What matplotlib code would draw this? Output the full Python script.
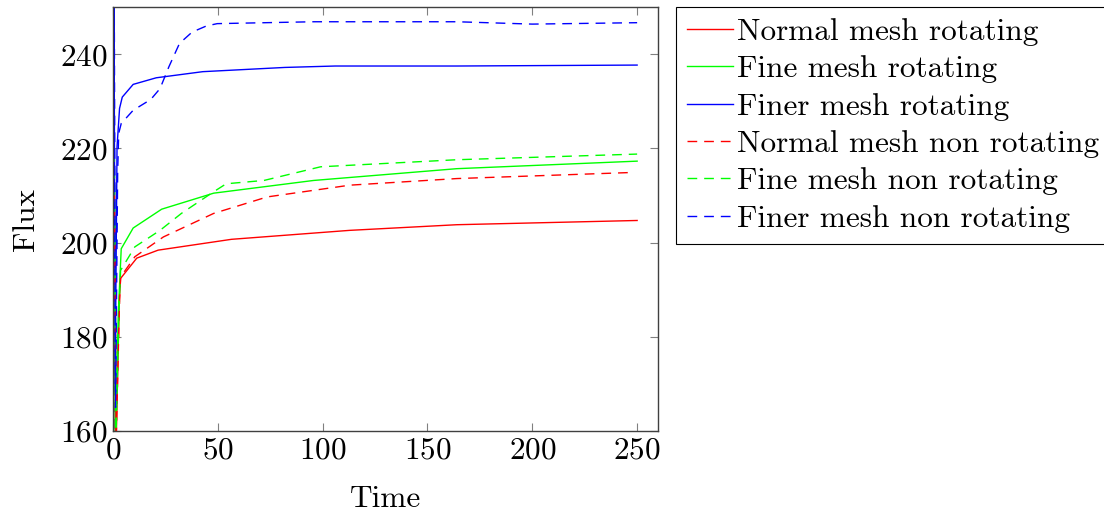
import matplotlib
matplotlib.use("Agg")
import matplotlib.pyplot as plt

plt.rcParams['font.family'] = ['cmr10', 'DejaVu Serif']
plt.rcParams['mathtext.fontset'] = 'cm'
plt.rcParams['axes.formatter.use_mathtext'] = True

# Data
t_normal_rot = [0, 0.6, 1.5, 3.0, 3.6, 11.3, 21.5, 56.5, 112.8, 164, 250]
f_normal_rot = [100, 215, 158, 188, 192.4, 196.7, 198.4, 200.7, 202.6, 203.8, 204.7]

t_fine_rot = [0, 0.5, 1.2, 2.5, 3.9, 9.6, 23.2, 48, 95.7, 164, 250]
f_fine_rot = [100, 225, 160, 185, 198.7, 203.1, 207.1, 210.5, 213.2, 215.7, 217.3]

t_finer_rot = [0, 0.4, 1.0, 1.9, 3.1, 4.4, 9.6, 20.6, 42.8, 82, 106, 164, 250]
f_finer_rot = [100, 262, 170, 220.3, 228.5, 230.9, 233.6, 235.0, 236.3, 237.2, 237.5, 237.5, 237.7]

t_normal_non = [0, 0.6, 1.5, 3.0, 3.6, 10.4, 24, 48, 73.5, 113, 164, 248]
f_normal_non = [100, 212, 158, 186, 192.7, 197.0, 201.2, 206.2, 209.7, 212.2, 213.6, 214.9]

t_fine_non = [0, 0.6, 1.5, 2.8, 3.6, 10.4, 22.4, 32.6, 48, 54, 72, 99, 164, 250]
f_fine_non = [100, 220, 160, 185, 194.1, 199.1, 202.6, 206.2, 210.8, 212.5, 213.2, 216.1, 217.6, 218.8]

t_finer_non = [0, 0.5, 1.2, 2.2, 2.7, 3.9, 9.6, 18, 22.4, 26.6, 31.7, 37.7, 44.5, 49.7, 95.7, 164, 200, 250]
f_finer_non = [100, 262, 165, 215, 223.2, 225.3, 228.1, 230.4, 232.7, 237.3, 242.3, 244.7, 246.0, 246.5, 246.9, 246.9, 246.4, 246.7]

labels = ["Normal mesh rotating", "Fine mesh rotating", "Finer mesh rotating",
          "Normal mesh non rotating", "Fine mesh non rotating", "Finer mesh non rotating"]
x_ticks = [0, 50, 100, 150, 200, 250]
y_ticks = [160, 180, 200, 220, 240]

FS = 22.5

fig = plt.figure(figsize=(11.04, 5.11), dpi=100)
ax = fig.add_axes([0.1024, 0.1566, 0.4937, 0.8294])

dash = (0, (7, 5))
series = [
    (t_normal_rot, f_normal_rot, '#ff0000', '-'),
    (t_fine_rot, f_fine_rot, '#00ff00', '-'),
    (t_finer_rot, f_finer_rot, '#0000ff', '-'),
    (t_normal_non, f_normal_non, '#ff0000', dash),
    (t_fine_non, f_fine_non, '#00ff00', dash),
    (t_finer_non, f_finer_non, '#0000ff', dash),
]
for (t, f, c, ls), lab in zip(series, labels):
    ax.plot(t, f, color=c, linestyle=ls, linewidth=1.0, label=lab)

ax.set_xlim(0, 260)
ax.set_ylim(160, 250)
ax.set_xticks(x_ticks)
ax.set_yticks(y_ticks)
ax.tick_params(direction='in', top=True, right=True, length=6, width=0.8,
               color='#808080', labelsize=FS, pad=4)
for s in ax.spines.values():
    s.set_linewidth(1.0)
    s.set_color('#404040')
ax.set_xlabel("Time", fontsize=FS, labelpad=15)
ax.set_ylabel("Flux", fontsize=FS, labelpad=14)

leg = fig.legend(loc='upper left', bbox_to_anchor=(0.612, 0.986), fontsize=FS,
                 frameon=True, fancybox=False, framealpha=1, edgecolor='black',
                 handlelength=1.5, handletextpad=0.12, borderpad=0.35,
                 labelspacing=0.3, borderaxespad=0)
leg.get_frame().set_linewidth(0.8)

fig.savefig("out.png", dpi=100)
